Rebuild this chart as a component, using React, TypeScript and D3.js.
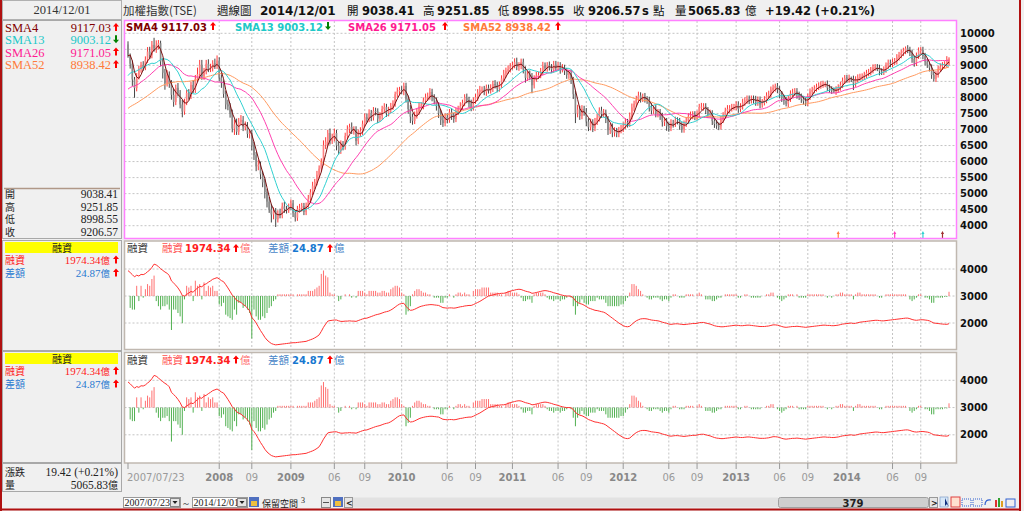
import * as d3 from "d3";

const CJK = '"Noto Sans CJK TC", "Noto Sans CJK SC", sans-serif';
const NUM = '"DejaVu Sans", Verdana, sans-serif';
const SERIF = '"Liberation Serif", "DejaVu Serif", serif';

// 51 weekly closes before the first drawn bar (needed for the moving averages)
const priorCloses = [
  6380, 6420, 6450, 6560, 6620, 6610, 6700, 6810, 6830, 6880, 6950, 6920, 7030,
  6980, 7050, 7090, 7140, 7240, 7330, 7420, 7480, 7610, 7700, 7820, 7780, 7690,
  7750, 7770, 7810, 7880, 7960, 7500, 7730, 7840, 7860, 7900, 7920, 7980, 8010,
  8050, 8100, 8150, 8290, 8360, 8460, 8580, 8750, 8890, 8960, 9300, 9650,
];

// weekly bars: [close, upper wick (x10 pts), lower wick (x10 pts)]
const w2007 = [
  [9290, 10, 5], [9050, 8, 15], [8560, 10, 20], [8290, 8, 30], [8640, 12, 10], [8890, 10, 8],
  [9010, 10, 12], [8930, 12, 10], [9180, 10, 8], [9430, 14, 10], [9320, 15, 12], [9640, 12, 10],
  [9530, 22, 10], [9620, 16, 14], [9690, 10, 12], [9120, 8, 15], [8770, 10, 18], [8440, 12, 20],
  [8710, 14, 10], [8420, 10, 12], [8080, 12, 15], [7860, 20, 15], [8300, 10, 10], [8130, 15, 10],
];
const w2008 = [
  [7780, 10, 12], [7560, 15, 18], [7840, 12, 10], [8140, 10, 8], [8030, 12, 10], [8390, 10, 8],
  [8240, 15, 10], [8580, 12, 10], [8730, 20, 10], [9020, 15, 12], [8650, 15, 10], [8800, 12, 10],
  [9050, 12, 8], [8890, 14, 10], [8930, 12, 10], [9060, 10, 12], [8990, 15, 10], [9150, 16, 10],
  [8620, 10, 12], [8450, 10, 15], [8110, 8, 12], [7780, 10, 15], [7720, 15, 12], [7520, 10, 15],
  [7030, 10, 12], [7160, 15, 20], [6930, 18, 10], [7240, 12, 10], [7300, 15, 10], [7070, 12, 12],
  [7110, 14, 10], [6860, 12, 12], [6890, 10, 14], [6500, 10, 15], [6200, 12, 15], [5850, 10, 15],
  [5900, 16, 12], [5600, 10, 15], [5350, 10, 15], [5050, 12, 20], [4750, 10, 18], [4500, 15, 10],
  [4350, 18, 25], [4450, 12, 15], [4200, 10, 24], [4380, 10, 10], [4330, 15, 10], [4600, 12, 10],
  [4520, 15, 12], [4480, 10, 10], [4590, 10, 8],
];
const w2009 = [
  [4700, 12, 10], [4390, 10, 12], [4250, 10, 12], [4520, 10, 10], [4560, 12, 10], [4610, 10, 12],
  [4430, 10, 10], [4620, 10, 10], [4840, 12, 10], [5040, 10, 12], [5250, 12, 10], [5360, 10, 12],
  [5590, 12, 10], [5780, 10, 12], [5980, 12, 10], [6510, 15, 10], [6620, 14, 12], [6890, 10, 14],
  [6650, 14, 12], [6750, 12, 10], [6890, 14, 12], [6500, 10, 15], [6340, 12, 12], [6540, 12, 10],
  [6470, 10, 12], [6800, 10, 10], [7010, 12, 10], [7080, 10, 12], [6960, 14, 10], [7000, 10, 12],
  [6640, 10, 14], [6880, 12, 10], [6950, 12, 10], [7180, 10, 12], [7380, 12, 10], [7330, 12, 12],
  [7510, 12, 10], [7380, 10, 12], [7580, 12, 10], [7560, 10, 12], [7340, 10, 14], [7420, 12, 10],
  [7640, 10, 12], [7700, 12, 10], [7510, 10, 12], [7610, 10, 10], [7730, 10, 10], [7810, 10, 12],
  [8100, 8, 10], [8190, 12, 10], [8230, 10, 12],
];
const w2010 = [
  [8210, 12, 10], [8360, 10, 14], [7960, 10, 12], [7640, 10, 15], [7400, 12, 20], [7270, 10, 12],
  [7440, 12, 10], [7560, 10, 10], [7720, 12, 10], [7750, 10, 10], [7900, 10, 12], [8000, 12, 10],
  [8030, 12, 10], [8170, 12, 10], [8000, 10, 12], [7900, 10, 12], [7730, 10, 14], [7500, 12, 14],
  [7290, 12, 15], [7200, 15, 12], [7380, 12, 10], [7310, 12, 12], [7540, 10, 10], [7420, 12, 12],
  [7330, 10, 12], [7570, 10, 10], [7640, 10, 12], [7730, 12, 10], [7830, 10, 12], [8000, 10, 10],
  [7920, 12, 10], [7810, 10, 12], [7690, 12, 12], [7900, 10, 10], [8010, 10, 10], [8160, 10, 12],
  [8240, 12, 10], [8240, 10, 10], [8170, 12, 10], [8300, 10, 12], [8220, 10, 10], [8290, 12, 10],
  [8420, 10, 12], [8380, 12, 10], [8280, 10, 12], [8400, 10, 10], [8590, 10, 10], [8740, 12, 10],
  [8830, 10, 12], [8880, 12, 10], [8970, 10, 10],
];
const w2011 = [
  [9010, 10, 10], [9100, 12, 10], [8950, 14, 10], [9000, 10, 12], [9110, 10, 12], [8870, 10, 12],
  [8610, 10, 15], [8720, 10, 10], [8660, 12, 12], [8380, 10, 25], [8590, 10, 10], [8680, 12, 10],
  [8700, 10, 10], [8800, 12, 10], [8990, 12, 10], [8920, 10, 10], [9000, 10, 12], [8940, 12, 10],
  [8870, 10, 10], [9020, 12, 10], [8950, 12, 12], [9000, 10, 12], [8880, 10, 14], [8920, 12, 10],
  [8820, 10, 12], [8700, 10, 12], [8760, 10, 12], [8540, 10, 12], [8100, 10, 15], [7500, 12, 30],
  [7620, 15, 12], [7420, 12, 12], [7640, 12, 10], [7550, 10, 12], [7250, 12, 14], [7070, 10, 12],
  [7220, 12, 10], [7050, 10, 13], [7240, 12, 10], [7370, 12, 10], [7590, 10, 12], [7480, 12, 12],
  [7520, 12, 10], [7320, 10, 12], [6980, 10, 15], [7070, 12, 12], [6900, 12, 14], [6950, 12, 12],
  [6880, 10, 12], [6980, 10, 12], [7020, 12, 10],
];
const w2012 = [
  [7120, 10, 10], [7230, 12, 10], [7180, 10, 12], [7410, 12, 10], [7690, 12, 10], [7800, 10, 12],
  [7930, 12, 10], [8060, 12, 10], [7960, 10, 12], [8020, 10, 10], [7940, 12, 10], [7920, 10, 12],
  [7700, 10, 14], [7590, 12, 12], [7640, 10, 10], [7500, 12, 12], [7540, 10, 12], [7420, 10, 12],
  [7230, 10, 14], [7260, 12, 12], [7100, 10, 14], [7050, 12, 12], [7200, 12, 10], [7180, 10, 12],
  [7280, 12, 10], [7260, 10, 10], [7110, 10, 12], [7000, 12, 10], [7180, 10, 10], [7270, 12, 10],
  [7410, 10, 10], [7440, 12, 10], [7470, 10, 12], [7390, 10, 10], [7470, 12, 10], [7700, 10, 10],
  [7710, 12, 10], [7720, 10, 12], [7600, 10, 12], [7460, 10, 10], [7500, 12, 10], [7260, 10, 12],
  [7170, 10, 12], [7120, 12, 10], [7100, 10, 12], [7300, 12, 10], [7440, 10, 10], [7580, 10, 10],
  [7640, 12, 10], [7660, 10, 12], [7700, 10, 10], [7700, 10, 10],
];
const w2013 = [
  [7780, 10, 10], [7640, 10, 12], [7720, 10, 10], [7840, 12, 10], [7900, 10, 10], [7960, 10, 10],
  [7910, 10, 12], [7960, 10, 10], [7930, 10, 12], [7840, 12, 10], [7930, 10, 10], [7780, 10, 12],
  [7850, 10, 10], [7920, 12, 10], [8060, 10, 10], [8090, 12, 10], [8240, 10, 10], [8300, 10, 10],
  [8350, 8, 12], [8250, 10, 12], [8100, 10, 12], [7980, 10, 12], [7890, 10, 12], [7800, 12, 8],
  [7960, 10, 10], [8120, 10, 10], [8150, 12, 10], [8190, 10, 10], [8080, 10, 12], [8020, 10, 10],
  [7950, 10, 12], [7880, 10, 10], [7830, 12, 10], [8020, 10, 10], [8180, 10, 10], [8230, 10, 10],
  [8280, 10, 10], [8330, 10, 10], [8370, 10, 10], [8400, 10, 10], [8420, 10, 10], [8430, 5, 10],
  [8300, 10, 10], [8250, 10, 10], [8210, 10, 10], [8180, 10, 4], [8250, 10, 10], [8310, 10, 10],
  [8390, 10, 10], [8520, 10, 10], [8600, 10, 10],
];
const w2014 = [
  [8560, 10, 10], [8610, 10, 10], [8580, 4, 10], [8430, 10, 20], [8560, 10, 10], [8620, 10, 10],
  [8640, 10, 10], [8650, 10, 10], [8700, 10, 10], [8760, 10, 10], [8790, 10, 10], [8850, 10, 10],
  [8930, 10, 10], [8940, 10, 10], [8920, 10, 10], [8810, 10, 12], [8800, 10, 10], [8870, 10, 10],
  [8990, 10, 10], [9080, 10, 10], [9040, 10, 10], [9110, 10, 10], [9130, 10, 10], [9250, 10, 10],
  [9320, 10, 10], [9390, 10, 10], [9450, 10, 10], [9530, 6, 10], [9480, 10, 10], [9390, 10, 10],
  [9200, 10, 12], [9080, 10, 12], [9300, 10, 10], [9460, 10, 10], [9480, 9, 10], [9290, 10, 10],
  [9120, 10, 12], [9020, 10, 10], [8930, 10, 12], [8700, 10, 12], [8580, 10, 8], [8720, 10, 10],
  [8890, 10, 10], [8960, 10, 10], [9000, 10, 10], [9030, 10, 10], [9187.15, 10, 10], [9206.57, 0, 0],
];
// the current (last) weekly bar
const lastOpen = 9038.41;
const lastHigh = 9251.85;
const lastLow = 8998.55;

// margin financing balance (億)
const m2007 = [3940, 3870, 3790, 3710, 3770, 3740, 3800, 3790, 3830, 3900, 3960, 4060, 4180, 4150, 4090, 4010, 3950, 3890, 3840, 3760, 3560, 3480, 3400, 3300];
const m2008 = [3180, 3020, 3000, 3060, 3110, 3170, 3140, 3230, 3290, 3360, 3340, 3420, 3450, 3510, 3560, 3620, 3650, 3680, 3630, 3570, 3530, 3420, 3300, 3170, 3030, 2950, 2840, 2800, 2760, 2690, 2630, 2550, 2450, 2200, 2120, 2000, 1860, 1720, 1600, 1470, 1370, 1300, 1240, 1210, 1190, 1200, 1210, 1220, 1230, 1240, 1250];
const m2009 = [1260, 1270, 1270, 1280, 1290, 1300, 1310, 1320, 1350, 1380, 1410, 1450, 1500, 1560, 1690, 1840, 1960, 2070, 2090, 2100, 2110, 2110, 2080, 2060, 2060, 2070, 2070, 2080, 2070, 2070, 2060, 2090, 2120, 2150, 2170, 2180, 2210, 2240, 2270, 2300, 2320, 2340, 2370, 2400, 2420, 2440, 2480, 2530, 2590, 2650, 2700];
const m2010 = [2720, 2730, 2620, 2530, 2470, 2480, 2510, 2550, 2590, 2620, 2640, 2660, 2670, 2680, 2680, 2670, 2660, 2650, 2610, 2570, 2560, 2550, 2560, 2560, 2550, 2560, 2580, 2600, 2610, 2630, 2640, 2650, 2650, 2680, 2720, 2760, 2800, 2850, 2900, 2950, 3000, 3020, 3040, 3060, 3080, 3090, 3100, 3100, 3120, 3150, 3180];
const m2011 = [3200, 3220, 3240, 3250, 3240, 3210, 3180, 3160, 3140, 3100, 3110, 3130, 3150, 3170, 3190, 3200, 3190, 3170, 3150, 3120, 3100, 3080, 3050, 3030, 3010, 3000, 3000, 2990, 2930, 2820, 2760, 2720, 2700, 2660, 2610, 2560, 2530, 2500, 2470, 2460, 2440, 2420, 2400, 2360, 2300, 2240, 2180, 2120, 2060, 2000, 1950];
const m2012 = [1900, 1870, 1860, 1880, 1950, 2020, 2080, 2120, 2150, 2160, 2160, 2150, 2130, 2110, 2100, 2090, 2080, 2060, 2030, 2010, 1990, 1960, 1950, 1960, 1970, 1970, 1960, 1950, 1940, 1950, 1960, 1970, 1980, 1980, 1990, 2010, 2020, 2020, 2000, 1980, 1960, 1930, 1900, 1880, 1870, 1860, 1860, 1870, 1880, 1890, 1900, 1910];
const m2013 = [1920, 1910, 1900, 1900, 1910, 1920, 1920, 1910, 1900, 1890, 1880, 1870, 1870, 1870, 1880, 1890, 1910, 1930, 1930, 1920, 1900, 1870, 1850, 1840, 1850, 1860, 1870, 1870, 1880, 1870, 1860, 1850, 1840, 1850, 1860, 1870, 1880, 1890, 1900, 1910, 1920, 1920, 1910, 1910, 1900, 1900, 1910, 1920, 1940, 1960, 1970];
const m2014 = [1980, 1990, 2000, 1980, 1990, 2010, 2030, 2040, 2050, 2060, 2070, 2080, 2090, 2100, 2100, 2090, 2080, 2080, 2090, 2100, 2110, 2120, 2130, 2140, 2150, 2160, 2170, 2180, 2180, 2160, 2130, 2110, 2100, 2110, 2120, 2120, 2110, 2100, 2080, 2040, 2000, 1990, 1980, 1970, 1960, 1955, 1949.47, 1974.34];

const xTicks = [
  { i: 0, label: "2007/07/23", start: true }, { i: 42, label: "2008", year: true }, { i: 57, label: "09" },
  { i: 75, label: "2009", year: true }, { i: 95, label: "06" }, { i: 109, label: "09" },
  { i: 126, label: "2010", year: true }, { i: 147, label: "06" }, { i: 160, label: "09" },
  { i: 177, label: "2011", year: true }, { i: 198, label: "06" }, { i: 211, label: "09" },
  { i: 228, label: "2012", year: true }, { i: 249, label: "06" }, { i: 262, label: "09" },
  { i: 280, label: "2013", year: true }, { i: 300, label: "06" }, { i: 313, label: "09" },
  { i: 331, label: "2014", year: true }, { i: 352, label: "06" }, { i: 365, label: "09" },
];
const priceTicks = [4000, 4500, 5000, 5500, 6000, 6500, 7000, 7500, 8000, 8500, 9000, 9500, 10000];
const marginTicks = [2000, 3000, 4000];

const smaDefs = [
  { n: 4, name: "SMA4", value: "9117.03", up: true, color: "#800000", line: "#7a1010", lx: 126, ax: 213 },
  { n: 13, name: "SMA13", value: "9003.12", up: false, color: "#20c8c8", line: "#30d0d0", lx: 235, ax: 328 },
  { n: 26, name: "SMA26", value: "9171.05", up: true, color: "#ff1a90", line: "#ff40b0", lx: 348, ax: 445 },
  { n: 52, name: "SMA52", value: "8938.42", up: true, color: "#ff7a3a", line: "#ff9a60", lx: 463, ax: 558 },
];
const signalMarks = [
  { i: 327, color: "#ff8040" }, { i: 353, color: "#ff40c0" }, { i: 366, color: "#30d0d0" }, { i: 375, color: "#a03030" },
];

const weeks = [...w2007, ...w2008, ...w2009, ...w2010, ...w2011, ...w2012, ...w2013, ...w2014];
const marginBal = [...m2007, ...m2008, ...m2009, ...m2010, ...m2011, ...m2012, ...m2013, ...m2014];
const N = weeks.length;
const closes = weeks.map((w) => w[0]);
const candles = weeks.map((w, i) => {
  const last = i === N - 1;
  const open = last ? lastOpen : i === 0 ? priorCloses[priorCloses.length - 1] : weeks[i - 1][0];
  const close = w[0];
  const high = last ? lastHigh : Math.max(open, close) + w[1] * 10;
  const low = last ? lastLow : Math.min(open, close) - w[2] * 10;
  return { i, open, close, high, low };
});
const allCloses = [...priorCloses, ...closes];
const P = priorCloses.length;
const sma = (n: number) => closes.map((_, i) => d3.mean(allCloses.slice(i + P - n + 1, i + P + 1)) as number);
const diffs = marginBal.map((v, i) => (i === 0 ? 0 : v - marginBal[i - 1]));

const x = d3.scaleLinear().domain([0, N - 1]).range([128, 949]);
const yMain = d3.scaleLinear().domain([4000, 10000]).range([225.7, 33.3]);
const barH = d3.scaleLinear().domain([0, 100]).range([0, 17]);

const PL = 124.5;
const PR = 956.5;

function Arrow({ x: ax, y, up = true, color = "#ff0000" }: { x: number; y: number; up?: boolean; color?: string }) {
  const d = up
    ? `M${ax},${y - 8} L${ax + 3},${y - 4.5} L${ax + 1},${y - 4.5} L${ax + 1},${y} L${ax - 1},${y} L${ax - 1},${y - 4.5} L${ax - 3},${y - 4.5} Z`
    : `M${ax},${y} L${ax + 3},${y - 3.5} L${ax + 1},${y - 3.5} L${ax + 1},${y - 8} L${ax - 1},${y - 8} L${ax - 1},${y - 3.5} L${ax - 3},${y - 3.5} Z`;
  return <path d={d} fill={color} />;
}

function VGrid({ top, bottom }: { top: number; bottom: number }) {
  return (
    <g>
      {xTicks.slice(1).map((t) => (
        <line key={t.i} x1={x(t.i)} x2={x(t.i)} y1={top} y2={bottom} stroke="#c4c4c4" strokeDasharray="2,2" />
      ))}
    </g>
  );
}

function MarginPanel({ top, bottom, range, id }: { top: number; bottom: number; range: [number, number]; id: string }) {
  const y = d3.scaleLinear().domain([2000, 4000]).range(range);
  const base = y(3000);
  const line = d3.line<number>().x((_, i) => x(i)).y((v) => y(v));
  const ly = top + 11;
  return (
    <g>
      <rect x={PL} y={top} width={PR - PL} height={bottom - top} fill="#fff" />
      <clipPath id={id}>
        <rect x={PL} y={top} width={PR - PL} height={bottom - top} />
      </clipPath>
      <VGrid top={top} bottom={bottom} />
      {marginTicks.map((t) => (
        <line key={t} x1={PL} x2={PR} y1={y(t)} y2={y(t)} stroke="#c4c4c4" strokeDasharray="2,2" />
      ))}
      <g clipPath={`url(#${id})`}>
        {diffs.map((d, i) =>
          d === 0 ? null : (
            <line key={i} x1={x(i)} x2={x(i)} y1={base} y2={d > 0 ? base - barH(d) : base + barH(-d)}
              stroke={d > 0 ? "#ff7070" : "#50b050"} strokeWidth={1} />
          )
        )}
        <path d={line(marginBal) ?? ""} fill="none" stroke="#ff3030" strokeWidth={1} />
      </g>
      <rect x={PL} y={top} width={PR - PL} height={bottom - top} fill="none" stroke="#c0b8b0" strokeWidth={1.5} />
      <text x={127} y={ly} fontFamily={CJK} fontSize={10.5} fill="#333">融資</text>
      <text x={162} y={ly} fontFamily={CJK} fontSize={10.5} fill="#ff5050">融資</text>
      <text x={185} y={ly} fontFamily={NUM} fontSize={10} fontWeight="bold" fill="#ff2020">1974.34</text>
      <Arrow x={236} y={ly} />
      <text x={240} y={ly} fontFamily={CJK} fontSize={10.5} fill="#ff7070">億</text>
      <text x={268} y={ly} fontFamily={CJK} fontSize={10.5} fill="#4a86c8">差額</text>
      <text x={292} y={ly} fontFamily={NUM} fontSize={10} fontWeight="bold" fill="#1878d0">24.87</text>
      <Arrow x={330} y={ly} />
      <text x={334} y={ly} fontFamily={CJK} fontSize={10.5} fill="#4a86c8">億</text>
      {marginTicks.map((t) => (
        <text key={t} x={960} y={y(t)} dy="0.35em" fontFamily={NUM} fontSize={10} fontWeight="bold" fill="#111">{t}</text>
      ))}
    </g>
  );
}

function LeftMarginBlock({ top }: { top: number }) {
  return (
    <g>
      <rect x={5} y={top} width={113} height={11} fill="#ffff00" />
      <text x={62} y={top + 9.5} textAnchor="middle" fontFamily={CJK} fontSize={10} fill="#222">融資</text>
      <text x={5} y={top + 22} fontFamily={CJK} fontSize={10} fill="#ff2020">融資</text>
      <text x={110} y={top + 22} textAnchor="end" fill="#ff2020">
        <tspan fontFamily={SERIF} fontSize={11}>1974.34</tspan>
        <tspan fontFamily={CJK} fontSize={9.5}>億</tspan>
      </text>
      <Arrow x={116} y={top + 21.5} />
      <text x={5} y={top + 35} fontFamily={CJK} fontSize={10} fill="#2a7ad0">差額</text>
      <text x={110} y={top + 35} textAnchor="end" fill="#2a7ad0">
        <tspan fontFamily={SERIF} fontSize={11}>24.87</tspan>
        <tspan fontFamily={CJK} fontSize={9.5}>億</tspan>
      </text>
      <Arrow x={116} y={top + 34.5} />
    </g>
  );
}

export default function App() {
  const lineGen = d3.line<number>().x((_, i) => x(i)).y((v) => yMain(v));
  const ohlc = [
    { k: "開", v: "9038.41" }, { k: "高", v: "9251.85" }, { k: "低", v: "8998.55" }, { k: "收", v: "9206.57" },
  ];
  return (
    <div style={{ position: "absolute", left: 0, top: 0 }}>
      <svg width={1024} height={511} style={{ display: "block" }}>
        <rect x={0} y={0} width={1024} height={511} fill="#f0f0f0" />

        {/* title bar */}
        <g fontSize={11.5} fill="#111">
          <text x={123} y={14.5} fontFamily={CJK} fontSize={11.5} fill="#333">加權指數(TSE)</text>
          <text x={217} y={14.5} fontFamily={CJK} fontSize={11.5} fill="#222">週線圖</text>
          <text x={260} y={14.5} fontFamily={NUM} fontWeight="bold" fontSize={12}>2014/12/01</text>
          <text x={347} y={14.5} fontFamily={CJK} fontSize={11.5}>開</text>
          <text x={362} y={14.5} fontFamily={NUM} fontWeight="bold">9038.41</text>
          <text x={423} y={14.5} fontFamily={CJK} fontSize={11.5}>高</text>
          <text x={437} y={14.5} fontFamily={NUM} fontWeight="bold">9251.85</text>
          <text x={498} y={14.5} fontFamily={CJK} fontSize={11.5}>低</text>
          <text x={512} y={14.5} fontFamily={NUM} fontWeight="bold">8998.55</text>
          <text x={573} y={14.5} fontFamily={CJK} fontSize={11.5}>收</text>
          <text x={588} y={14.5} fontFamily={NUM} fontWeight="bold">9206.57</text>
          <text x={642} y={14.5} fontFamily={NUM} fontWeight="bold">s</text>
          <text x={653} y={14.5} fontFamily={CJK} fontSize={11.5}>點</text>
          <text x={675} y={14.5} fontFamily={CJK} fontSize={11.5}>量</text>
          <text x={688} y={14.5} fontFamily={NUM} fontWeight="bold">5065.83</text>
          <text x={745} y={14.5} fontFamily={CJK} fontSize={11.5}>億</text>
          <text x={765} y={14.5} fontFamily={NUM} fontWeight="bold">+19.42 (+0.21%)</text>
        </g>

        {/* left info column */}
        <g>
          <rect x={2.5} y={0.5} width={119} height={19} fill="#f0f0f0" stroke="#b0b0b0" />
          <text x={62} y={14} textAnchor="middle" fontFamily={SERIF} fontSize={12.5} fill="#333">2014/12/01</text>
          <rect x={2.5} y={20.5} width={119} height={218} fill="#f0f0f0" stroke="#a8a8a8" />
          {smaDefs.map((s, k) => (
            <g key={s.name}>
              <text x={5} y={32 + k * 12.3} fontFamily={SERIF} fontSize={12.5} fill={s.color}>{s.name}</text>
              <text x={111} y={32 + k * 12.3} textAnchor="end" fontFamily={SERIF} fontSize={12.5} fill={s.color}>{s.value}</text>
              <Arrow x={116} y={31 + k * 12.3} up={s.up} color={s.up ? "#ff0000" : "#008000"} />
            </g>
          ))}
          <line x1={4} x2={120} y1={188.5} y2={188.5} stroke="#b09888" strokeWidth={1.5} />
          {ohlc.map((r, k) => (
            <g key={r.k}>
              <text x={5} y={198 + k * 12.5} fontFamily={CJK} fontSize={10} fill="#222">{r.k}</text>
              <text x={118} y={198 + k * 12.5} textAnchor="end" fontFamily={SERIF} fontSize={11.5} fill="#222">{r.v}</text>
            </g>
          ))}
          <rect x={2.5} y={240.5} width={119} height={110} fill="#f0f0f0" stroke="#a8a8a8" />
          <LeftMarginBlock top={242} />
          <rect x={2.5} y={351.5} width={119} height={111} fill="#f0f0f0" stroke="#a8a8a8" />
          <LeftMarginBlock top={353} />
          <rect x={2.5} y={463.5} width={119} height={28} fill="#f0f0f0" stroke="#a8a8a8" />
          <text x={5} y={476} fontFamily={CJK} fontSize={10} fill="#222">漲跌</text>
          <text x={118} y={476} textAnchor="end" fontFamily={SERIF} fontSize={11.5} fill="#222">19.42 (+0.21%)</text>
          <text x={5} y={488.5} fontFamily={CJK} fontSize={10} fill="#222">量</text>
          <text x={118} y={488.5} textAnchor="end" fill="#222">
            <tspan fontFamily={SERIF} fontSize={11.5}>5065.83</tspan>
            <tspan fontFamily={CJK} fontSize={10}>億</tspan>
          </text>
        </g>

        {/* main price panel */}
        <g>
          <rect x={PL} y={20.5} width={PR - PL} height={218} fill="#fff" />
          <clipPath id="mainClip">
            <rect x={PL} y={20.5} width={PR - PL} height={218} />
          </clipPath>
          <VGrid top={21} bottom={238} />
          {priceTicks.map((t) => (
            <line key={t} x1={PL} x2={PR} y1={yMain(t)} y2={yMain(t)} stroke="#c4c4c4" strokeDasharray="2,2" />
          ))}
          <g clipPath="url(#mainClip)">
            {candles.map((c) => {
              const up = c.close >= c.open;
              const top = yMain(Math.max(c.open, c.close));
              const bot = yMain(Math.min(c.open, c.close));
              return (
                <g key={c.i}>
                  <line x1={x(c.i)} x2={x(c.i)} y1={yMain(c.high)} y2={yMain(c.low)} stroke={up ? "#ff2020" : "#303030"} strokeWidth={0.9} />
                  <rect x={x(c.i) - 0.8} width={1.6} y={top} height={Math.max(1, bot - top)} fill={up ? "#ff8080" : "#8a8a8a"} />
                </g>
              );
            })}
            {smaDefs.slice().reverse().map((s) => (
              <path key={s.name} d={lineGen(sma(s.n)) ?? ""} fill="none" stroke={s.line} strokeWidth={1} />
            ))}
            {signalMarks.map((m) => {
              const mx = x(m.i);
              return (
                <path key={m.i} fill={m.color}
                  d={`M${mx},231 L${mx + 1.6},234 L${mx + 0.6},234 L${mx + 0.6},238 L${mx - 0.6},238 L${mx - 0.6},234 L${mx - 1.6},234 Z`} />
              );
            })}
          </g>
          <rect x={PL} y={20.5} width={PR - PL} height={218} fill="none" stroke="#ff80ff" strokeWidth={1.5} />
          {smaDefs.map((s) => (
            <g key={s.name}>
              <text x={s.lx} y={30.5} fontFamily={NUM} fontSize={10} fontWeight="bold" fill={s.color}>{s.name} {s.value}</text>
              <Arrow x={s.ax} y={30} up={s.up} color={s.up ? "#ff0000" : "#008000"} />
            </g>
          ))}
          {priceTicks.map((t) => (
            <text key={t} x={960} y={yMain(t)} dy="0.35em" fontFamily={NUM} fontSize={10} fontWeight="bold" fill="#111">{t}</text>
          ))}
        </g>

        <MarginPanel top={241} bottom={349.5} range={[323, 269]} id="m1" />
        <MarginPanel top={352.5} bottom={463} range={[434.8, 380.3]} id="m2" />

        {/* x axis */}
        <g>
          {xTicks.map((t) => (
            <g key={t.i}>
              <line x1={x(t.i)} x2={x(t.i)} y1={463} y2={469} stroke="#999" />
              <text x={t.start ? 127 : x(t.i)} y={481} textAnchor={t.start ? "start" : "middle"}
                fontFamily={NUM} fontSize={10} fontWeight={t.year ? "bold" : "normal"} fill={t.year ? "#888" : "#9a9a9a"}>
                {t.label}
              </text>
            </g>
          ))}
        </g>

        {/* bottom toolbar */}
        <g>
          <rect x={123.5} y={497.5} width={57} height={10} fill="#fff" stroke="#999" />
          <text x={124.5} y={506} fontFamily={SERIF} fontSize={10} fill="#222">2007/07/23</text>
          <rect x={170.5} y={498.5} width={9} height={8} fill="#e6e6e6" stroke="#888" />
          <path d="M172.5,501 L177.5,501 L175,504 Z" fill="#222" />
          <text x={183} y={507} fontFamily={SERIF} fontSize={11} fill="#222">~</text>
          <rect x={192.5} y={497.5} width={55} height={10} fill="#fff" stroke="#999" />
          <text x={193.5} y={506} fontFamily={SERIF} fontSize={10} fill="#222">2014/12/01</text>
          <rect x={237.5} y={498.5} width={9} height={8} fill="#e6e6e6" stroke="#888" />
          <path d="M239.5,501 L244.5,501 L242,504 Z" fill="#222" />
          <rect x={249} y={497} width={10} height={10} fill="#5070c0" />
          <rect x={251} y={501} width={6} height={5} fill="#f0c040" />
          <text x={262} y={506.5} fontFamily={CJK} fontSize={9} fill="#222">保留空間</text>
          <text x={301} y={503} fontFamily={SERIF} fontSize={8} fill="#222">3</text>
          <rect x={321.5} y={497.5} width={9} height={10} fill="#e6e6e6" stroke="#888" />
          <line x1={323} x2={329} y1={502.5} y2={502.5} stroke="#555" />
          <rect x={333} y={497} width={10} height={10} fill="#5070c0" />
          <rect x={335} y={501} width={6} height={5} fill="#f0c040" />
          <rect x={344.5} y={497.5} width={8} height={10} fill="#e6e6e6" stroke="#999" />
          <text x={346} y={506} fontFamily={NUM} fontSize={8} fontWeight="bold" fill="#222">&lt;</text>
          <rect x={353} y={497.5} width={425} height={10} fill="#e2e2e2" />
          <rect x={778.5} y={497.5} width={150} height={10} rx={2} fill="#cfcfcf" stroke="#a0a0a0" />
          <text x={853} y={506.5} textAnchor="middle" fontFamily={NUM} fontSize={10} fontWeight="bold" fill="#222">379</text>
          <rect x={929.5} y={497.5} width={8} height={10} fill="#e6e6e6" stroke="#999" />
          <text x={931} y={506} fontFamily={NUM} fontSize={8} fontWeight="bold" fill="#222">&gt;</text>
          <rect x={940} y={497} width={8} height={10} fill="#d8e8f8" stroke="#7090c0" strokeWidth={0.6} />
          <path d="M945,498 L945,506 L947,504 L949,507 Z" fill="#103080" />
          <rect x={951} y={497} width={9} height={10} fill="#ffe0d0" stroke="#e04040" />
          <rect x={962} y={499} width={9} height={7} fill="none" stroke="#3060d0" strokeDasharray="1,1" />
          <rect x={973} y={499} width={9} height={7} fill="none" stroke="#3060d0" strokeDasharray="1,1" />
          <path d="M985,505 Q985,499 991,500" fill="none" stroke="#3060d0" strokeWidth={1.2} />
          <rect x={995} y={500} width={2} height={7} fill="#e03030" />
          <rect x={998} y={498} width={2} height={9} fill="#30a030" />
          <rect x={1001} y={501} width={2} height={6} fill="#e0a020" />
          <rect x={1006} y={499} width={9} height={8} fill="none" stroke="#3060d0" />
        </g>

        {/* outer frame */}
        <line x1={1} x2={1} y1={0} y2={511} stroke="#b01010" strokeWidth={2} />
        <line x1={1020} x2={1020} y1={0} y2={511} stroke="#b01010" strokeWidth={2} />
        <line x1={0} x2={1021} y1={509.5} y2={509.5} stroke="#b01010" strokeWidth={2} />
      </svg>
    </div>
  );
}
